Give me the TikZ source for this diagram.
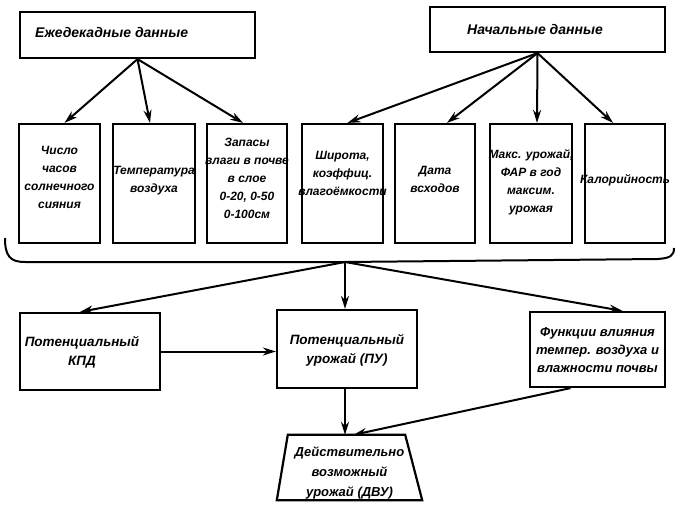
\documentclass[tikz,border=0pt]{standalone}
\usepackage{fontspec}
\setmainfont{Liberation Sans}
\usetikzlibrary{arrows.meta,calc}
\begin{document}
\begin{tikzpicture}[x=1pt,y=-1pt,
  frame/.style={draw, line width=2.2pt, inner sep=0pt},
  txt/.style={font=\fontsize{12}{18}\selectfont\bfseries\itshape, align=center, inner sep=0pt},
  bigtxt/.style={font=\fontsize{13.5}{19}\selectfont\bfseries\itshape, align=center, inner sep=0pt},
  toptxt/.style={font=\fontsize{14}{17}\selectfont\bfseries\itshape, inner sep=0pt},
  arr/.style={line width=2pt, -{Stealth[length=13pt,width=8pt]}},
  ln/.style={line width=2pt}]
\useasboundingbox (0,0) rectangle (676,513);
% top boxes
\node[frame, minimum width=235pt, minimum height=46pt] (ed) at (137.5,35) {};
\node[toptxt, anchor=west] (edt) at (35,32) {Ежедекадные данные};
\node[frame, minimum width=235pt, minimum height=45pt] (nd) at (547.5,29.5) {};
\node[toptxt] (ndt) at (535,29) {Начальные данные};
% row of data boxes
\foreach \n/\cx/\w in {b1/59.5/81, b2/154/82, b3/247/80, b4/342.5/81, b5/435/80, b6/531/82, b7/625/80}{
  \node[frame, minimum width=\w pt, minimum height=119pt] (\n) at (\cx,183.5) {};
}
\node[txt] (t1) at (59.5,177) {Число\\часов\\солнечного\\сияния};
\node[txt] (t2) at (154,181) {Температура\\воздуха};
\node[txt] (t3) at (247,178) {Запасы\\влаги в почве\\в слое\\0-20, 0-50\\0-100см};
\node[txt] (t4) at (342.5,173) {Широта,\\коэффиц.\\влагоёмкости};
\node[txt] (t5) at (435,179) {Дата\\всходов};
\node[txt] (t6) at (531,182) {Макс. урожай,\\ФАР в год\\максим.\\урожая};
\node[txt] (t7) at (625,180) {Калорийность};
% arrows from top boxes
\draw[arr] (ed.south) -- ([xshift=5pt]b1.north);
\draw[arr] (ed.south) -- ([xshift=-4pt]b2.north);
\draw[arr] (ed.south) -- ([xshift=-4pt]b3.north);
\draw[arr] ([xshift=-10pt]nd.south) -- ([xshift=5pt]b4.north);
\draw[arr] ([xshift=-10pt]nd.south) -- ([xshift=12pt]b5.north);
\draw[arr] ([xshift=-10pt]nd.south) -- ([xshift=6pt]b6.north);
\draw[arr] ([xshift=-10pt]nd.south) -- ([xshift=-12pt]b7.north);
% brace
\coordinate (br) at (345,262);
\draw[ln] (5,238) .. controls (5,256) and (10,262) .. (25,262) -- (br) -- (658,259) .. controls (670,258) and (674,256) .. (674,248);
% third row
\node[frame, minimum width=140pt, minimum height=77pt] (kpd) at (90,351.5) {};
\node[bigtxt] (kpdt) at (82,352) {Потенциальный\\КПД};
\node[frame, minimum width=140pt, minimum height=78pt] (pu) at (347,349) {};
\node[bigtxt] (put) at (347,350) {Потенциальный\\урожай (ПУ)};
\node[frame, minimum width=135pt, minimum height=75pt] (fv) at (597.5,349.5) {};
\node[bigtxt, font=\fontsize{13}{18}\selectfont\bfseries\itshape] (fvt) at (597.5,350) {Функции влияния\\темпер. воздуха и\\влажности почвы};
\draw[arr] (br) -- ([xshift=-10pt]kpd.north);
\draw[arr] (br) -- ([xshift=-2pt]pu.north);
\draw[arr] (br) -- ([xshift=25pt]fv.north);
\draw[arr] (kpd.east) -- (pu.west |- kpd.east);
% trapezoid
\node[inner sep=0pt, minimum width=117pt, minimum height=65pt] (dvu) at (346.5,467.5) {};
\draw[line width=2.2pt] (dvu.north west) -- (dvu.north east) -- ($(dvu.south east)+(17,0)$) -- ($(dvu.south west)+(-11,0)$) -- cycle;
\node[bigtxt, font=\fontsize{13}{20}\selectfont\bfseries\itshape] (dvut) at (349.5,473) {Действительно\\возможный\\урожай (ДВУ)};
\draw[arr] ([xshift=-2pt]pu.south) -- ([xshift=-1.5pt]dvu.north);
\draw[arr] ([xshift=-27pt]fv.south) -- ([xshift=7pt]dvu.north);
\end{tikzpicture}
\end{document}
